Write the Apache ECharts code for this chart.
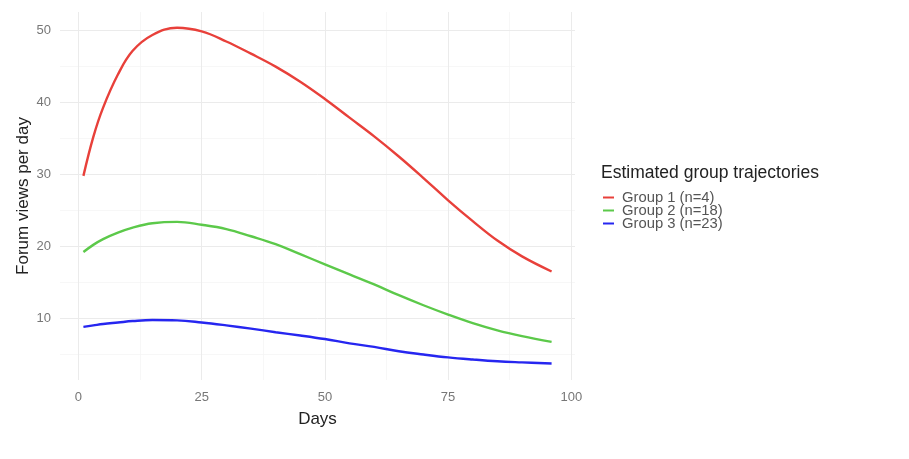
<!DOCTYPE html>
<html>
<head>
<meta charset="utf-8">
<script src="https://cdn.jsdelivr.net/npm/echarts@6/dist/echarts.min.js"></script>
<style>
  html, body { margin: 0; padding: 0; background: #fff; }
  #chart { width: 909px; height: 459px; }
</style>
</head>
<body>
<div id="chart"></div>
<script>
// days sampled along each estimated trajectory
const days = [1, 3, 5, 8, 11, 15, 20, 25, 30, 35, 40, 45, 50, 55, 60, 65, 70, 75, 80, 85, 90, 96]
const group1 = [29.8, 35.2, 39.3, 43.9, 47.2, 49.4, 50.4, 49.9, 48.5, 46.8, 45.0, 42.9, 40.5, 37.9, 35.3, 32.5, 29.5, 26.4, 23.5, 20.8, 18.6, 16.5]
const group2 = [19.2, 20.2, 21.0, 21.9, 22.6, 23.2, 23.4, 23.0, 22.4, 21.4, 20.3, 18.9, 17.5, 16.1, 14.7, 13.2, 11.8, 10.5, 9.3, 8.3, 7.5, 6.7]
const group3 = [8.8, 9.0, 9.2, 9.4, 9.6, 9.75, 9.7, 9.4, 9.0, 8.55, 8.05, 7.6, 7.1, 6.5, 6.0, 5.4, 4.95, 4.55, 4.25, 4.0, 3.85, 3.7]
const seriesNames = ['Group 1 (n=4)', 'Group 2 (n=18)', 'Group 3 (n=23)']
const colors = ['#e8403a', '#5cc94a', '#2626f0']

const xTicks = [0, 25, 50, 75, 100]
const xMinor = [12.5, 37.5, 62.5, 87.5]
const yTicks = [10, 20, 30, 40, 50]
const yMinor = [5, 15, 25, 35, 45]

const font = '"Liberation Sans", Arial, sans-serif'

const chart = echarts.init(document.getElementById('chart'))

function pairs(ys) {
  return days.map((d, i) => [d, ys[i]])
}

const major = { color: '#ebebeb', width: 1, type: 'solid' }
const minor = { color: '#f5f5f5', width: 0.8, type: 'solid' }

const gridLines = [
  ...xMinor.map(v => ({ xAxis: v, lineStyle: minor })),
  ...yMinor.map(v => ({ yAxis: v, lineStyle: minor })),
  ...xTicks.map(v => ({ xAxis: v, lineStyle: major })),
  ...yTicks.map(v => ({ yAxis: v, lineStyle: major })),
]

chart.setOption({
  animation: false,
  title: {
    text: 'Estimated group trajectories',
    left: 601,
    top: 164,
    padding: 0,
    textStyle: { fontFamily: font, fontSize: 17.5, fontWeight: 'normal', color: '#222' },
  },
  legend: {
    orient: 'vertical',
    left: 603,
    top: 190,
    padding: 0,
    itemGap: -2,
    itemWidth: 11,
    itemHeight: 2,
    icon: 'rect',
    data: seriesNames,
    textStyle: { fontFamily: font, fontSize: 14.8, color: '#555', lineHeight: 13.3, padding: [0, 0, 0, 3] },
  },
  grid: { left: 60, top: 12, width: 515, height: 368, containLabel: false },
  xAxis: {
    type: 'value',
    min: -3.75,
    max: 100.75,
    name: 'Days',
    nameLocation: 'middle',
    nameGap: 31,
    nameTextStyle: { fontFamily: font, fontSize: 17, color: '#222' },
    axisLine: { show: false },
    axisTick: { show: false },
    splitLine: { show: false },
    axisLabel: { customValues: xTicks, margin: 11, fontFamily: font, fontSize: 13, color: '#777' },
  },
  yAxis: {
    type: 'value',
    min: 1.4,
    max: 52.6,
    name: 'Forum views per day',
    nameLocation: 'middle',
    nameGap: 28,
    nameMoveOverlap: false,
    nameRotate: 90,
    nameTextStyle: { fontFamily: font, fontSize: 17, color: '#222' },
    axisLine: { show: false },
    axisTick: { show: false },
    splitLine: { show: false },
    axisLabel: { customValues: yTicks, margin: 9, fontFamily: font, fontSize: 13, color: '#777' },
  },
  series: [
    {
      type: 'line',
      data: [],
      silent: true,
      z: 1,
      markLine: { silent: true, symbol: ['none', 'none'], label: { show: false }, data: gridLines, animation: false },
    },
    ...[group1, group2, group3].map((g, i) => ({
      name: seriesNames[i],
      type: 'line',
      data: pairs(g),
      smooth: 0.4,
      showSymbol: false,
      zlevel: 1,
      z: 3,
      color: colors[i],
      lineStyle: { color: colors[i], width: 2.4 },
    })),
  ],
})
</script>
</body>
</html>
